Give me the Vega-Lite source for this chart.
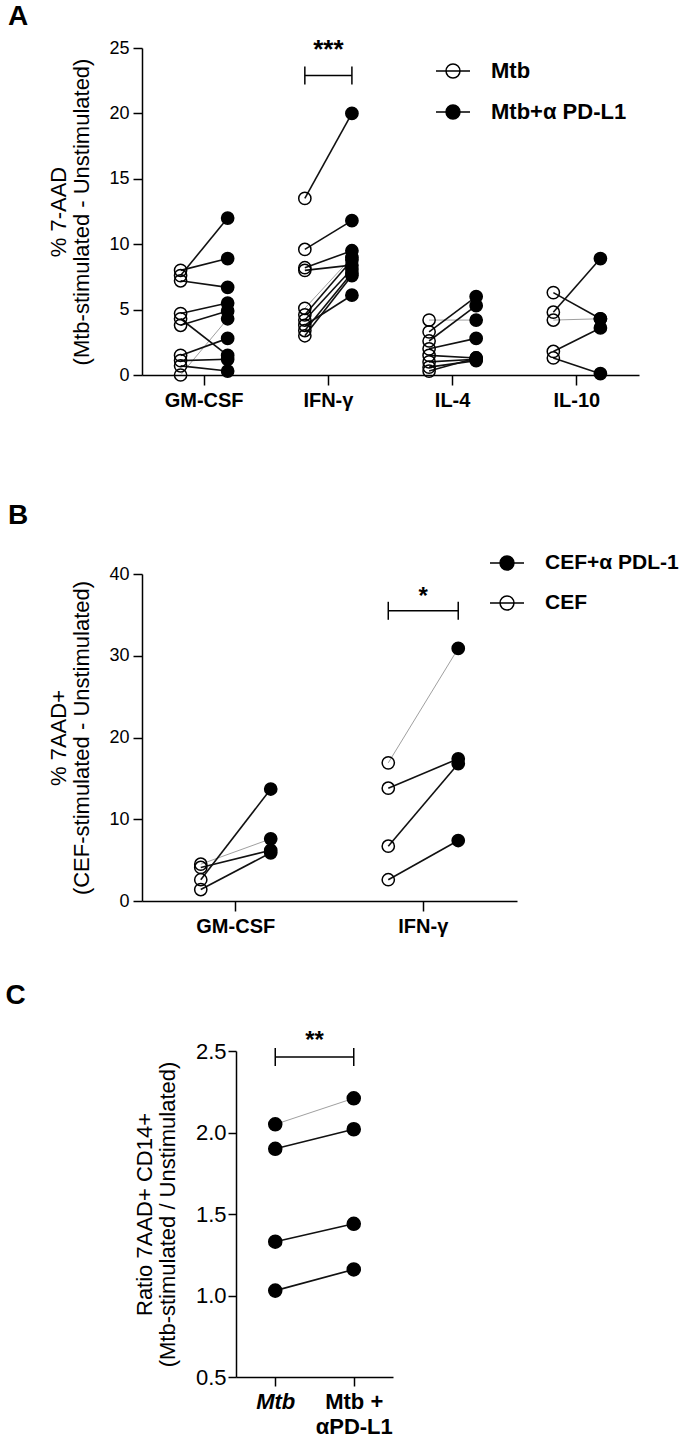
{
  "$schema": "https://vega.github.io/schema/vega-lite/v6.json",
  "background": "white",
  "padding": {"left": 5, "top": 3, "right": 5, "bottom": 5},
  "config": {
    "font": "Liberation Sans",
    "view": {"stroke": null},
    "axis": {"domainColor": "black", "domainWidth": 1.5, "tickColor": "black", "tickWidth": 1.5, "tickSize": 9, "labelColor": "black", "labelFontSize": 18, "titleColor": "black", "titleFontSize": 22, "titleFontWeight": "normal", "grid": false, "labelPadding": 4, "titlePadding": 15, "titleLineHeight": 23},
    "axisX": {"labelFontWeight": "bold", "labelFontSize": 20, "labelAngle": 0, "labelPadding": 5, "tickSize": 10},
    "title": {"fontSize": 28, "fontWeight": "bold", "anchor": "start", "frame": "bounds", "color": "black"},
    "legend": {"symbolType": "M-1,0L1,0M-0.41,0A0.41,0.41,0,1,0,0.41,0A0.41,0.41,0,1,0,-0.41,0Z", "symbolSize": 1156, "symbolStrokeColor": "black", "symbolStrokeWidth": 1.5, "labelFontSize": 22, "labelFontWeight": "bold", "labelColor": "black", "labelOffset": 20, "rowPadding": 12, "padding": 0, "labelLimit": 300}
  },
  "datasets": {
    "a": [
      {"cytokine": "GM-CSF", "donor": "D1", "group": "Mtb", "value": 0.0},
      {"cytokine": "GM-CSF", "donor": "D1", "group": "Mtb+α PD-L1", "value": 4.3},
      {"cytokine": "GM-CSF", "donor": "D2", "group": "Mtb", "value": 7.6},
      {"cytokine": "GM-CSF", "donor": "D2", "group": "Mtb+α PD-L1", "value": 12.0},
      {"cytokine": "GM-CSF", "donor": "D3", "group": "Mtb", "value": 8.0},
      {"cytokine": "GM-CSF", "donor": "D3", "group": "Mtb+α PD-L1", "value": 8.9},
      {"cytokine": "GM-CSF", "donor": "D4", "group": "Mtb", "value": 7.2},
      {"cytokine": "GM-CSF", "donor": "D4", "group": "Mtb+α PD-L1", "value": 6.7},
      {"cytokine": "GM-CSF", "donor": "D5", "group": "Mtb", "value": 4.7},
      {"cytokine": "GM-CSF", "donor": "D5", "group": "Mtb+α PD-L1", "value": 5.5},
      {"cytokine": "GM-CSF", "donor": "D6", "group": "Mtb", "value": 3.8},
      {"cytokine": "GM-CSF", "donor": "D6", "group": "Mtb+α PD-L1", "value": 4.9},
      {"cytokine": "GM-CSF", "donor": "D7", "group": "Mtb", "value": 4.3},
      {"cytokine": "GM-CSF", "donor": "D7", "group": "Mtb+α PD-L1", "value": 1.5},
      {"cytokine": "GM-CSF", "donor": "D8", "group": "Mtb", "value": 1.5},
      {"cytokine": "GM-CSF", "donor": "D8", "group": "Mtb+α PD-L1", "value": 2.8},
      {"cytokine": "GM-CSF", "donor": "D9", "group": "Mtb", "value": 1.1},
      {"cytokine": "GM-CSF", "donor": "D9", "group": "Mtb+α PD-L1", "value": 1.2},
      {"cytokine": "GM-CSF", "donor": "D10", "group": "Mtb", "value": 0.7},
      {"cytokine": "GM-CSF", "donor": "D10", "group": "Mtb+α PD-L1", "value": 0.3},
      {"cytokine": "IFN-γ", "donor": "D1", "group": "Mtb", "value": 5.1},
      {"cytokine": "IFN-γ", "donor": "D1", "group": "Mtb+α PD-L1", "value": 9.0},
      {"cytokine": "IFN-γ", "donor": "D2", "group": "Mtb", "value": 13.5},
      {"cytokine": "IFN-γ", "donor": "D2", "group": "Mtb+α PD-L1", "value": 20.0},
      {"cytokine": "IFN-γ", "donor": "D3", "group": "Mtb", "value": 9.6},
      {"cytokine": "IFN-γ", "donor": "D3", "group": "Mtb+α PD-L1", "value": 11.8},
      {"cytokine": "IFN-γ", "donor": "D4", "group": "Mtb", "value": 8.2},
      {"cytokine": "IFN-γ", "donor": "D4", "group": "Mtb+α PD-L1", "value": 9.5},
      {"cytokine": "IFN-γ", "donor": "D5", "group": "Mtb", "value": 8.0},
      {"cytokine": "IFN-γ", "donor": "D5", "group": "Mtb+α PD-L1", "value": 8.4},
      {"cytokine": "IFN-γ", "donor": "D6", "group": "Mtb", "value": 4.6},
      {"cytokine": "IFN-γ", "donor": "D6", "group": "Mtb+α PD-L1", "value": 8.8},
      {"cytokine": "IFN-γ", "donor": "D7", "group": "Mtb", "value": 4.2},
      {"cytokine": "IFN-γ", "donor": "D7", "group": "Mtb+α PD-L1", "value": 8.1},
      {"cytokine": "IFN-γ", "donor": "D8", "group": "Mtb", "value": 3.8},
      {"cytokine": "IFN-γ", "donor": "D8", "group": "Mtb+α PD-L1", "value": 6.1},
      {"cytokine": "IFN-γ", "donor": "D9", "group": "Mtb", "value": 3.4},
      {"cytokine": "IFN-γ", "donor": "D9", "group": "Mtb+α PD-L1", "value": 7.8},
      {"cytokine": "IFN-γ", "donor": "D10", "group": "Mtb", "value": 3.0},
      {"cytokine": "IFN-γ", "donor": "D10", "group": "Mtb+α PD-L1", "value": 7.6},
      {"cytokine": "IL-4", "donor": "D1", "group": "Mtb", "value": 4.2},
      {"cytokine": "IL-4", "donor": "D1", "group": "Mtb+α PD-L1", "value": 4.2},
      {"cytokine": "IL-4", "donor": "D2", "group": "Mtb", "value": 3.3},
      {"cytokine": "IL-4", "donor": "D2", "group": "Mtb+α PD-L1", "value": 6.0},
      {"cytokine": "IL-4", "donor": "D3", "group": "Mtb", "value": 2.6},
      {"cytokine": "IL-4", "donor": "D3", "group": "Mtb+α PD-L1", "value": 5.3},
      {"cytokine": "IL-4", "donor": "D4", "group": "Mtb", "value": 2.0},
      {"cytokine": "IL-4", "donor": "D4", "group": "Mtb+α PD-L1", "value": 2.8},
      {"cytokine": "IL-4", "donor": "D5", "group": "Mtb", "value": 1.5},
      {"cytokine": "IL-4", "donor": "D5", "group": "Mtb+α PD-L1", "value": 1.3},
      {"cytokine": "IL-4", "donor": "D6", "group": "Mtb", "value": 1.0},
      {"cytokine": "IL-4", "donor": "D6", "group": "Mtb+α PD-L1", "value": 1.2},
      {"cytokine": "IL-4", "donor": "D7", "group": "Mtb", "value": 0.6},
      {"cytokine": "IL-4", "donor": "D7", "group": "Mtb+α PD-L1", "value": 1.1},
      {"cytokine": "IL-4", "donor": "D8", "group": "Mtb", "value": 0.3},
      {"cytokine": "IL-4", "donor": "D8", "group": "Mtb+α PD-L1", "value": 1.3},
      {"cytokine": "IL-10", "donor": "D1", "group": "Mtb", "value": 4.2},
      {"cytokine": "IL-10", "donor": "D1", "group": "Mtb+α PD-L1", "value": 4.3},
      {"cytokine": "IL-10", "donor": "D2", "group": "Mtb", "value": 6.3},
      {"cytokine": "IL-10", "donor": "D2", "group": "Mtb+α PD-L1", "value": 4.3},
      {"cytokine": "IL-10", "donor": "D3", "group": "Mtb", "value": 4.8},
      {"cytokine": "IL-10", "donor": "D3", "group": "Mtb+α PD-L1", "value": 8.9},
      {"cytokine": "IL-10", "donor": "D4", "group": "Mtb", "value": 1.8},
      {"cytokine": "IL-10", "donor": "D4", "group": "Mtb+α PD-L1", "value": 3.6},
      {"cytokine": "IL-10", "donor": "D5", "group": "Mtb", "value": 1.3},
      {"cytokine": "IL-10", "donor": "D5", "group": "Mtb+α PD-L1", "value": 0.1}
    ],
    "b": [
      {"cytokine": "GM-CSF", "donor": "D1", "group": "CEF", "value": 4.5},
      {"cytokine": "GM-CSF", "donor": "D1", "group": "CEF+α PDL-1", "value": 7.6},
      {"cytokine": "GM-CSF", "donor": "D2", "group": "CEF", "value": 4.1},
      {"cytokine": "GM-CSF", "donor": "D2", "group": "CEF+α PDL-1", "value": 6.2},
      {"cytokine": "GM-CSF", "donor": "D3", "group": "CEF", "value": 2.6},
      {"cytokine": "GM-CSF", "donor": "D3", "group": "CEF+α PDL-1", "value": 13.7},
      {"cytokine": "GM-CSF", "donor": "D4", "group": "CEF", "value": 1.4},
      {"cytokine": "GM-CSF", "donor": "D4", "group": "CEF+α PDL-1", "value": 5.9},
      {"cytokine": "IFN-γ", "donor": "D1", "group": "CEF", "value": 16.9},
      {"cytokine": "IFN-γ", "donor": "D1", "group": "CEF+α PDL-1", "value": 30.9},
      {"cytokine": "IFN-γ", "donor": "D2", "group": "CEF", "value": 13.8},
      {"cytokine": "IFN-γ", "donor": "D2", "group": "CEF+α PDL-1", "value": 17.4},
      {"cytokine": "IFN-γ", "donor": "D3", "group": "CEF", "value": 6.7},
      {"cytokine": "IFN-γ", "donor": "D3", "group": "CEF+α PDL-1", "value": 16.8},
      {"cytokine": "IFN-γ", "donor": "D4", "group": "CEF", "value": 2.6},
      {"cytokine": "IFN-γ", "donor": "D4", "group": "CEF+α PDL-1", "value": 7.4}
    ],
    "c": [
      {"donor": "D1", "group": "Mtb", "value": 2.05},
      {"donor": "D1", "group": "Mtb + αPD-L1", "value": 2.21},
      {"donor": "D2", "group": "Mtb", "value": 1.90},
      {"donor": "D2", "group": "Mtb + αPD-L1", "value": 2.02},
      {"donor": "D3", "group": "Mtb", "value": 1.33},
      {"donor": "D3", "group": "Mtb + αPD-L1", "value": 1.44},
      {"donor": "D4", "group": "Mtb", "value": 1.03},
      {"donor": "D4", "group": "Mtb + αPD-L1", "value": 1.16}
    ]
  },
  "spacing": 45,
  "resolve": {"scale": {"fill": "independent", "xOffset": "independent", "x": "independent", "y": "independent"}, "legend": {"fill": "independent"}},
  "vconcat": [
    {
      "spacing": 92,
      "resolve": {"scale": {"fill": "independent", "xOffset": "independent", "x": "independent", "y": "independent"}, "legend": {"fill": "independent"}},
      "vconcat": [
        {
          "title": {"text": "A", "dx": -40, "offset": 6},
          "width": 497,
          "height": 327,
          "layer": [
            {
              "data": {"name": "a"},
              "mark": {"type": "line"},
              "encoding": {
                "x": {"field": "cytokine", "type": "nominal", "scale": {"domain": ["GM-CSF", "IFN-γ", "IL-4", "IL-10"], "paddingInner": 0, "paddingOuter": 0}, "axis": {"title": null}},
                "xOffset": {"field": "group", "type": "nominal", "scale": {"type": "point", "domain": ["Mtb", "Mtb+α PD-L1"], "padding": 0.82}},
                "y": {"field": "value", "type": "quantitative", "scale": {"domain": [0, 25], "nice": false}, "axis": {"values": [0, 5, 10, 15, 20, 25], "title": ["% 7-AAD", "(Mtb-stimulated - Unstimulated)"]}},
                "detail": [{"field": "cytokine"}, {"field": "donor"}],
                "color": {"condition": {"test": "datum.donor === 'D1'", "value": "#a0a0a0"}, "value": "#111111"},
                "strokeWidth": {"condition": {"test": "datum.donor === 'D1'", "value": 1}, "value": 1.6}
              }
            },
            {
              "data": {"name": "a"},
              "mark": {"type": "point", "shape": "circle", "filled": true, "size": 150, "stroke": "black", "strokeWidth": 1.5, "opacity": 1},
              "encoding": {
                "x": {"field": "cytokine", "type": "nominal"},
                "xOffset": {"field": "group", "type": "nominal"},
                "y": {"field": "value", "type": "quantitative"},
                "fill": {"field": "group", "type": "nominal", "scale": {"domain": ["Mtb", "Mtb+α PD-L1"], "range": ["transparent", "black"]},
                  "legend": {"title": null, "orient": "none", "legendX": 293, "legendY": 5,
                    "encode": {"labels": {"update": {"fontStyle": {"signal": "datum.label === 'Mtb' ? 'italic' : 'normal'"}}}}}}
              }
            },
            {
              "data": {"values": [{"cytokine": "IFN-γ", "group": "Mtb", "value": 22.9}, {"cytokine": "IFN-γ", "group": "Mtb+α PD-L1", "value": 22.9}]},
              "layer": [
                {"mark": {"type": "line", "color": "black", "strokeWidth": 1.5},
                 "encoding": {"x": {"field": "cytokine", "type": "nominal"}, "xOffset": {"field": "group", "type": "nominal"}, "y": {"field": "value", "type": "quantitative"}}},
                {"mark": {"type": "point", "shape": "stroke", "angle": 90, "size": 324, "filled": false, "stroke": "black", "strokeWidth": 1.5, "opacity": 1},
                 "encoding": {"x": {"field": "cytokine", "type": "nominal"}, "xOffset": {"field": "group", "type": "nominal"}, "y": {"field": "value", "type": "quantitative"}}}
              ]
            },
            {
              "data": {"values": [{"cytokine": "IFN-γ", "label": "***", "value": 24.2}]},
              "mark": {"type": "text", "fontSize": 26, "fontWeight": "bold", "baseline": "alphabetic", "color": "black"},
              "encoding": {"x": {"field": "cytokine", "type": "nominal"}, "y": {"field": "value", "type": "quantitative"}, "text": {"field": "label"}}
            }
          ]
        },
        {
          "title": {"text": "B", "dx": -40, "offset": 15},
          "width": 375,
          "height": 327,
          "layer": [
            {
              "data": {"name": "b"},
              "mark": {"type": "line"},
              "encoding": {
                "x": {"field": "cytokine", "type": "nominal", "scale": {"domain": ["GM-CSF", "IFN-γ"], "paddingInner": 0, "paddingOuter": 0}, "axis": {"title": null}},
                "xOffset": {"field": "group", "type": "nominal", "scale": {"type": "point", "domain": ["CEF", "CEF+α PDL-1"], "padding": 0.84}},
                "y": {"field": "value", "type": "quantitative", "scale": {"domain": [0, 40], "nice": false}, "axis": {"values": [0, 10, 20, 30, 40], "title": ["% 7AAD+", "(CEF-stimulated - Unstimulated)"]}},
                "detail": [{"field": "cytokine"}, {"field": "donor"}],
                "color": {"condition": {"test": "datum.donor === 'D1'", "value": "#a0a0a0"}, "value": "#111111"},
                "strokeWidth": {"condition": {"test": "datum.donor === 'D1'", "value": 1}, "value": 1.6}
              }
            },
            {
              "data": {"name": "b"},
              "mark": {"type": "point", "shape": "circle", "filled": true, "size": 150, "stroke": "black", "strokeWidth": 1.5, "opacity": 1},
              "encoding": {
                "x": {"field": "cytokine", "type": "nominal"},
                "xOffset": {"field": "group", "type": "nominal"},
                "y": {"field": "value", "type": "quantitative"},
                "fill": {"field": "group", "type": "nominal", "scale": {"domain": ["CEF+α PDL-1", "CEF"], "range": ["black", "transparent"]},
                  "legend": {"title": null, "orient": "none", "legendX": 347, "legendY": -29, "labelFontSize": 21}}
              }
            },
            {
              "data": {"values": [{"cytokine": "IFN-γ", "group": "CEF", "value": 35.5}, {"cytokine": "IFN-γ", "group": "CEF+α PDL-1", "value": 35.5}]},
              "layer": [
                {"mark": {"type": "line", "color": "black", "strokeWidth": 1.5},
                 "encoding": {"x": {"field": "cytokine", "type": "nominal"}, "xOffset": {"field": "group", "type": "nominal"}, "y": {"field": "value", "type": "quantitative"}}},
                {"mark": {"type": "point", "shape": "stroke", "angle": 90, "size": 324, "filled": false, "stroke": "black", "strokeWidth": 1.5, "opacity": 1},
                 "encoding": {"x": {"field": "cytokine", "type": "nominal"}, "xOffset": {"field": "group", "type": "nominal"}, "y": {"field": "value", "type": "quantitative"}}}
              ]
            },
            {
              "data": {"values": [{"cytokine": "IFN-γ", "label": "*", "value": 36.3}]},
              "mark": {"type": "text", "fontSize": 24, "fontWeight": "bold", "baseline": "alphabetic", "color": "black"},
              "encoding": {"x": {"field": "cytokine", "type": "nominal"}, "y": {"field": "value", "type": "quantitative"}, "text": {"field": "label"}}
            }
          ]
        }
      ]
    },
    {
      "title": {"text": "C", "dx": -128, "offset": 19},
      "width": 251,
      "height": 326,
      "resolve": {"scale": {"x": "independent"}},
      "layer": [
        {
          "layer": [
            {
              "data": {"name": "c"},
              "mark": {"type": "line"},
              "encoding": {
                "x": {"field": "group", "type": "nominal", "scale": {"domain": ["Mtb", "Mtb + αPD-L1"], "range": [94, 251], "paddingInner": 0, "paddingOuter": 0},
                  "axis": {"title": null, "labelFontSize": 22, "tickSize": 9, "labelLineHeight": 25,
                    "labelExpr": "datum.value === 'Mtb' ? 'Mtb' : ['Mtb +', 'αPD-L1']",
                    "labelFontStyle": {"condition": {"test": "datum.value === 'Mtb'", "value": "italic"}, "value": "normal"}}},
                "y": {"field": "value", "type": "quantitative", "scale": {"domain": [0.5, 2.5], "nice": false, "zero": false},
                  "axis": {"values": [0.5, 1, 1.5, 2, 2.5], "format": ".1f", "offset": -94, "labelFontSize": 22, "tickSize": 8, "labelPadding": 2, "titlePadding": 16, "title": ["Ratio 7AAD+ CD14+", "(Mtb-stimulated / Unstimulated)"]}},
                "detail": {"field": "donor"},
                "color": {"condition": {"test": "datum.donor === 'D1'", "value": "#a0a0a0"}, "value": "#111111"},
                "strokeWidth": {"condition": {"test": "datum.donor === 'D1'", "value": 1}, "value": 1.6}
              }
            },
            {
              "data": {"name": "c"},
              "mark": {"type": "point", "shape": "circle", "filled": true, "size": 170, "fill": "black", "stroke": "black", "strokeWidth": 1.5, "opacity": 1},
              "encoding": {
                "x": {"field": "group", "type": "nominal"},
                "y": {"field": "value", "type": "quantitative"}
              }
            },
            {
              "data": {"values": [{"group": "Mtb", "value": 2.463}, {"group": "Mtb + αPD-L1", "value": 2.463}]},
              "layer": [
                {"mark": {"type": "line", "color": "black", "strokeWidth": 1.5},
                 "encoding": {"x": {"field": "group", "type": "nominal"}, "y": {"field": "value", "type": "quantitative"}}},
                {"mark": {"type": "point", "shape": "stroke", "angle": 90, "size": 324, "filled": false, "stroke": "black", "strokeWidth": 1.5, "opacity": 1},
                 "encoding": {"x": {"field": "group", "type": "nominal"}, "y": {"field": "value", "type": "quantitative"}}}
              ]
            }
          ]
        },
        {
          "data": {"values": [{"pair": 0.5, "label": "**", "value": 2.52}]},
          "mark": {"type": "text", "fontSize": 24, "fontWeight": "bold", "baseline": "alphabetic", "color": "black"},
          "encoding": {"x": {"field": "pair", "type": "quantitative", "scale": {"domain": [0, 1], "range": [94, 251]}, "axis": null}, "y": {"field": "value", "type": "quantitative"}, "text": {"field": "label"}}
        }
      ]
    }
  ]
}
